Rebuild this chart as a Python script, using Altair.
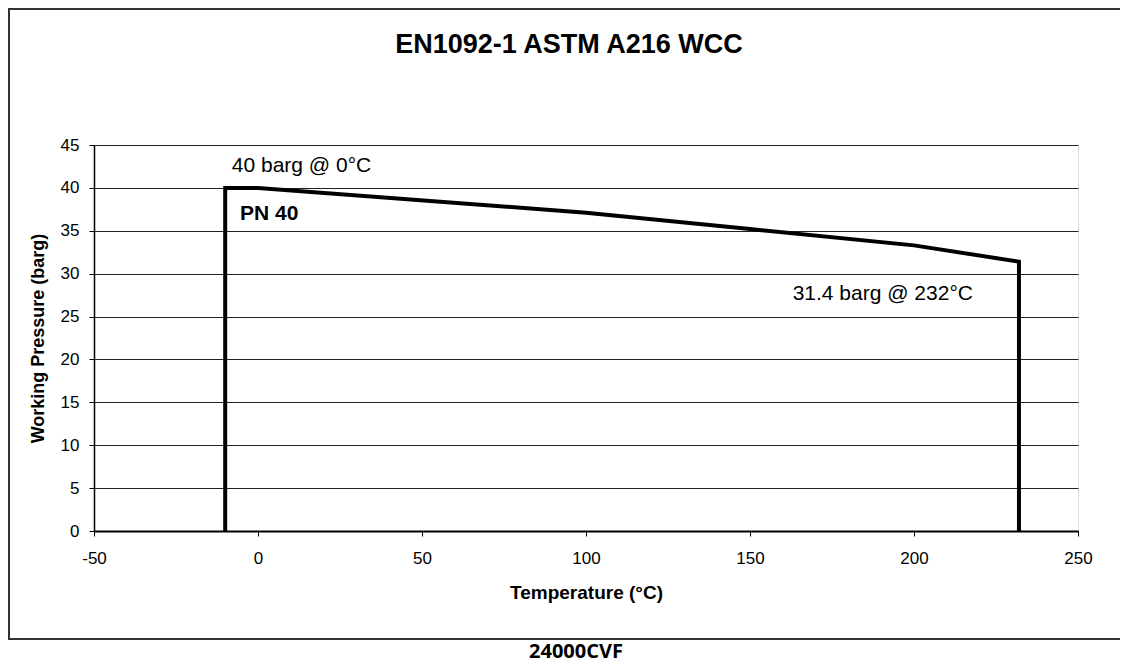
import altair as alt
import pandas as pd

# ---- data ----
temps = [-10, -10, 0, 100, 150, 200, 232, 232]
pressures = [0, 40, 40, 37.1, 35.2, 33.3, 31.4, 0]

x_ticks = [-50, 0, 50, 100, 150, 200, 250]
y_ticks = [0, 5, 10, 15, 20, 25, 30, 35, 40, 45]

note_text = ["40 barg @ 0°C", "31.4 barg @ 232°C"]
note_x = [-8, 163]
note_y = [41.9, 26.9]

bold_text = ["PN 40"]
bold_x = [-5.5]
bold_y = [36.3]

chart_title = "EN1092-1 ASTM A216 WCC"
footer_text = "24000CVF"
x_title = "Temperature (°C)"
y_title = "Working Pressure (barg)"

FONT = "Liberation Sans"

line_df = pd.DataFrame({"t": temps, "p": pressures, "i": list(range(len(temps)))})
note_df = pd.DataFrame({"label": note_text, "t": note_x, "p": note_y})
bold_df = pd.DataFrame({"label": bold_text, "t": bold_x, "p": bold_y})
one = pd.DataFrame({"k": [0]})

xscale = alt.Scale(domain=[-50, 250], nice=False, zero=False)
yscale = alt.Scale(domain=[0, 45], nice=False, zero=False)

xaxis = alt.Axis(values=x_ticks, title=x_title, grid=False, tickSize=5,
                 labelPadding=14, titlePadding=17, labelFontSize=17,
                 titleFontSize=19, labelFont=FONT, titleFont=FONT,
                 titleFontWeight="bold", domainColor="black", domainWidth=2,
                 tickColor="black", labelColor="black", titleColor="black",
                 labelFlush=False, labelExpr="'' + datum.value")
yaxis = alt.Axis(values=y_ticks, title=y_title, grid=True, gridColor="#222",
                 gridWidth=1, tickSize=5, labelPadding=10, titlePadding=13,
                 labelFontSize=17, titleFontSize=18, labelFont=FONT,
                 titleFont=FONT, titleFontWeight="bold", domainColor="black",
                 domainWidth=1.5, tickColor="black", labelColor="black",
                 titleColor="black", labelFlush=False)

line = alt.Chart(line_df).mark_line(color="black", strokeWidth=4).encode(
    x=alt.X("t:Q", scale=xscale, axis=xaxis),
    y=alt.Y("p:Q", scale=yscale, axis=yaxis),
    order="i:Q",
)

notes = alt.Chart(note_df).mark_text(
    align="left", baseline="alphabetic", font=FONT, fontSize=21, color="black"
).encode(x=alt.X("t:Q", scale=xscale), y=alt.Y("p:Q", scale=yscale), text="label:N")

bold_notes = alt.Chart(bold_df).mark_text(
    align="left", baseline="alphabetic", font=FONT, fontSize=21,
    fontWeight="bold", color="black"
).encode(x=alt.X("t:Q", scale=xscale), y=alt.Y("p:Q", scale=yscale), text="label:N")

title_mark = alt.Chart(pd.DataFrame({"s": [chart_title]})).mark_text(
    align="center", baseline="alphabetic", font=FONT, fontSize=27,
    fontWeight="bold", color="black"
).encode(text="s:N", x=alt.value(475), y=alt.value(-92))

footer_mark = alt.Chart(pd.DataFrame({"s": [footer_text]})).mark_text(
    align="center", baseline="middle", font="Open Sans", fontSize=20,
    fontWeight="bold", color="black"
).encode(text="s:N", x=alt.value(482), y=alt.value(507))

# outer chart-area frame (left, top, bottom edges; the right edge is off-page)
box_left = alt.Chart(one).mark_rect(color="#333").encode(
    x=alt.value(-86), x2=alt.value(-84), y=alt.value(-137), y2=alt.value(495))
box_top = alt.Chart(one).mark_rect(color="#333").encode(
    x=alt.value(-86), x2=alt.value(1026), y=alt.value(-137), y2=alt.value(-135))
box_bottom = alt.Chart(one).mark_rect(color="#333").encode(
    x=alt.value(-86), x2=alt.value(1026), y=alt.value(493), y2=alt.value(495))

chart = alt.layer(
    box_left, box_top, box_bottom, title_mark, footer_mark,
    line, notes, bold_notes
).properties(
    width=984, height=386,
    autosize=alt.AutoSizeParams(type="none"),
    padding={"left": 86, "top": 137, "right": 42, "bottom": 133},
).configure_view(
    stroke="#808080", strokeWidth=1
).configure(background="white")

chart.save("out.html", embed_options={"renderer": "svg", "actions": False})
